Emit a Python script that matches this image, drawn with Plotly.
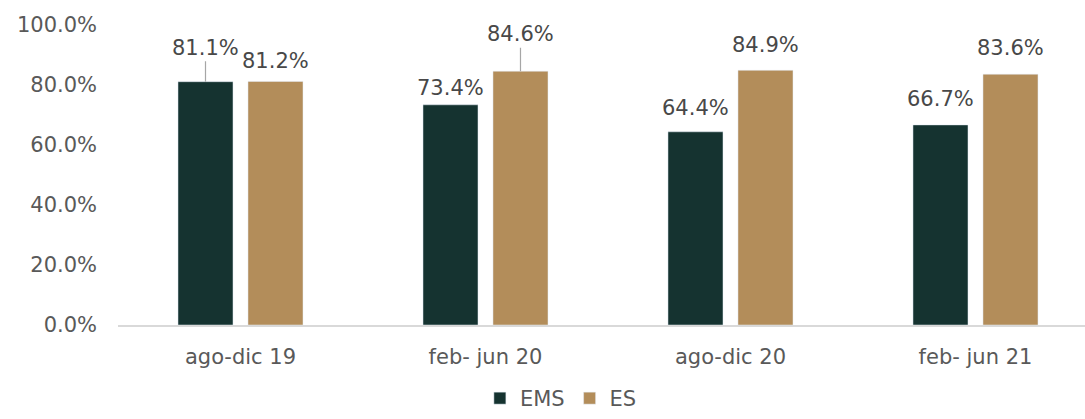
import plotly.graph_objects as go

periods = ["ago-dic 19", "feb- jun 20", "ago-dic 20", "feb- jun 21"]
ems = [81.1, 73.4, 64.4, 66.7]
es = [81.2, 84.6, 84.9, 83.6]

# how far each label sits above its bar (px), leader line where it is pushed up
ems_lift = [-34, -17, -24, -26]
es_lift = [-20, -37, -25, -26]
ems_leader = [True, False, False, False]
es_leader = [False, True, False, False]

EMS_COLOR = "#153330"
ES_COLOR = "#B38D5A"
FONT = "DejaVu Sans"

fig = go.Figure()
fig.add_trace(go.Bar(x=periods, y=ems, name="EMS", marker_color=EMS_COLOR,
                     hovertemplate="%{x}: %{y:.1f}%<extra>EMS</extra>"))
fig.add_trace(go.Bar(x=periods, y=es, name="ES", marker_color=ES_COLOR,
                     hovertemplate="%{x}: %{y:.1f}%<extra>ES</extra>"))

# data labels
for values, lifts, leaders, shift in [(ems, ems_lift, ems_leader, -35),
                                      (es, es_lift, es_leader, 35)]:
    for p, v, lift, lead in zip(periods, values, lifts, leaders):
        fig.add_annotation(
            x=p, y=v, xshift=shift, text=f"{v:.1f}%",
            showarrow=True, ax=0, ay=lift, arrowhead=0, arrowwidth=1.2,
            arrowcolor="#A6A6A6" if lead else "rgba(0,0,0,0)",
            font=dict(size=21, color="#484848", family=FONT),
        )

fig.update_layout(
    width=1085, height=419,
    barmode="group", bargap=0.4286, bargroupgap=0.214,
    plot_bgcolor="white", paper_bgcolor="white",
    margin=dict(l=118, r=0, t=25, b=94),
    font=dict(family=FONT, size=21, color="#595959"),
    showlegend=True,
    # legend sits in the container so it doesn't push the bottom margin
    legend=dict(orientation="h", x=0.458, xanchor="center",
                yref="container", y=-0.022, yanchor="bottom",
                font=dict(size=21, color="#595959"), itemwidth=30, traceorder="normal"),
)
fig.update_xaxes(range=[-0.5, 3.447], showline=True, linecolor="#D9D9D9", linewidth=2,
                 showgrid=False, ticks="", ticklabelstandoff=12, automargin=False)
fig.update_yaxes(range=[0, 100], dtick=20, ticksuffix="%", tickformat=".1f",
                 showgrid=False, zeroline=False, showline=False, ticks="",
                 ticklabelstandoff=20, automargin=False)

# drop the default body margin so the figure fills the window exactly
fig.write_html("out.html", config={"displayModeBar": False},
               post_script="document.body.style.margin='0';document.body.style.overflow='hidden';")
